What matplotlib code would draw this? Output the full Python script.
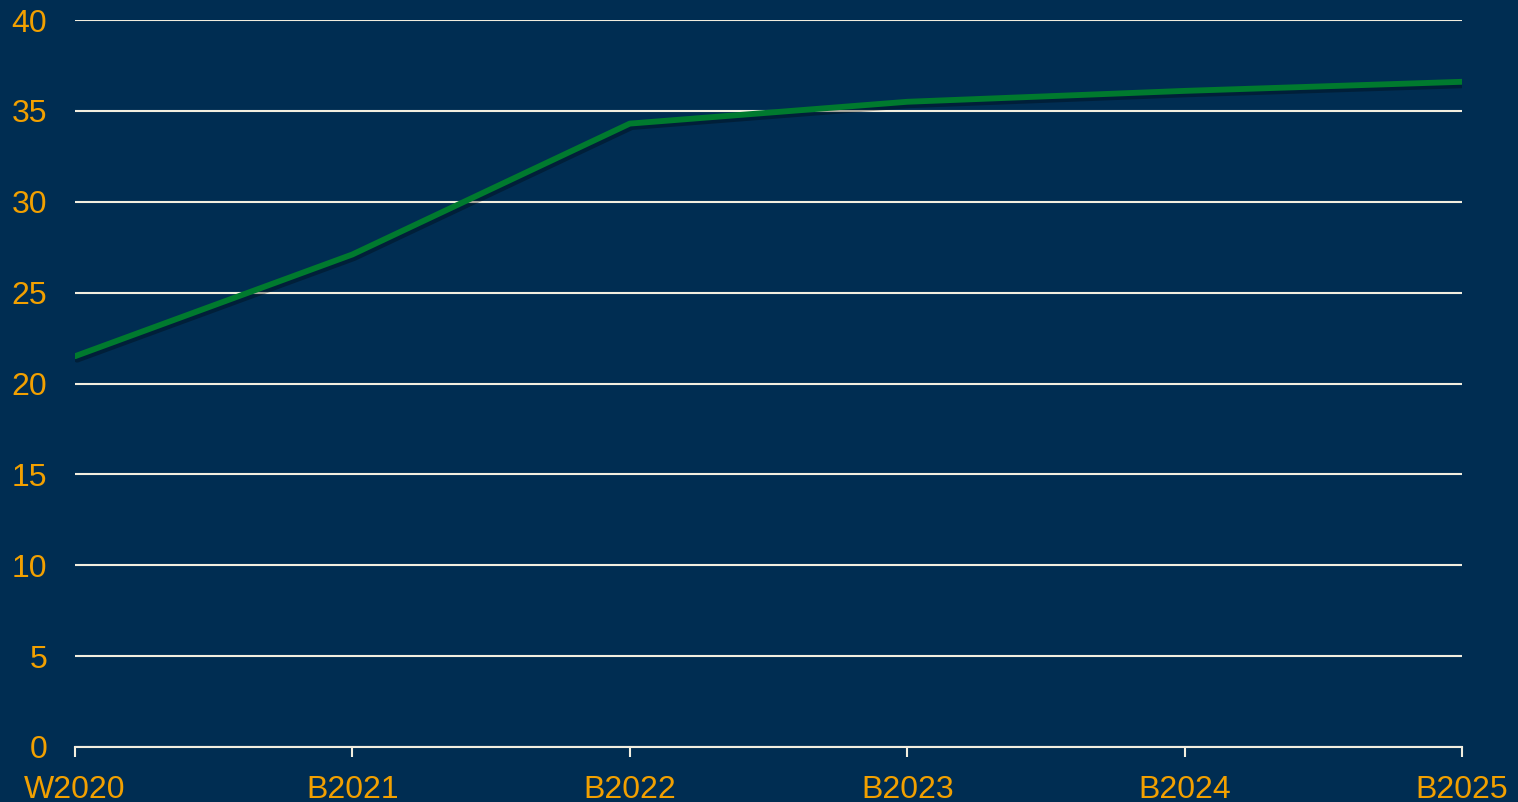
import matplotlib.pyplot as plt
import matplotlib.patheffects as pe

# Chart data
categories = ['W2020', 'B2021', 'B2022', 'B2023', 'B2024', 'B2025']
values = [21.5, 27.1, 34.3, 35.5, 36.1, 36.6]
y_ticks = [0, 5, 10, 15, 20, 25, 30, 35, 40]

bg = '#002D52'
grid_col = '#F2EEDF'
text_col = '#F2A000'
line_col = '#007A2E'

plt.rcParams['font.family'] = ['Liberation Sans', 'DejaVu Sans']

fig = plt.figure(figsize=(15.18, 8.02), dpi=100, facecolor=bg)
ax = fig.add_axes([75 / 1518, 1 - 747 / 802, (1462 - 75) / 1518, (747 - 20) / 802])
ax.set_facecolor(bg)

x = list(range(len(categories)))
ax.plot(x, values, color=line_col, linewidth=4.2, solid_capstyle='round', zorder=3,
        path_effects=[pe.SimpleLineShadow(offset=(1.5, -2.5), shadow_color='black', alpha=0.3),
                      pe.Normal()])

ax.set_xlim(0, len(categories) - 1)
ax.set_ylim(0, 40)
ax.set_yticks(y_ticks)
ax.set_xticks(x)
ax.set_xticklabels(categories)

ax.yaxis.grid(True, color=grid_col, linewidth=1.5)
ax.set_axisbelow(True)

for s in ['top', 'right', 'left']:
    ax.spines[s].set_visible(False)
ax.spines['bottom'].set_color(grid_col)
ax.spines['bottom'].set_linewidth(1.5)

ax.tick_params(axis='y', length=0, pad=20, labelsize=23, labelcolor=text_col)
ax.tick_params(axis='x', length=7, width=1.5, color=grid_col, pad=13,
               labelsize=23, labelcolor=text_col)

fig.savefig('out.png', dpi=100, facecolor=bg)
